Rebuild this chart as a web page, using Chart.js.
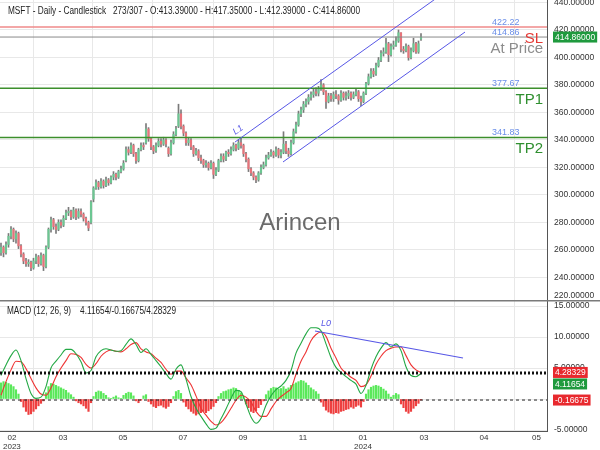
<!DOCTYPE html>
<html>
<head>
<meta charset="utf-8">
<script src="https://cdn.jsdelivr.net/npm/chart.js@4.4.1/dist/chart.umd.min.js"></script>
<style>
  html, body { margin: 0; padding: 0; background: #fff; }
  #wrap { position: relative; width: 600px; height: 450px; overflow: hidden; background: #fff; }
  #price-wrap { position: absolute; left: 0; top: 0; width: 600px; height: 300px; }
  #macd-wrap { position: absolute; left: 0; top: 300px; width: 600px; height: 150px; }
</style>
</head>
<body>
<div id="wrap">
  <div id="price-wrap"><canvas id="price-chart" width="600" height="300"></canvas></div>
  <div id="macd-wrap"><canvas id="macd-chart" width="600" height="150"></canvas></div>
</div>
<script>
// daily candles, one per bar index
const opens = [
  258,262,258,264,270,275,268,272,263,257, 252,250,251,247,252,255,250,256,248,262,
  275,282,277,275,280,278,283,287,288,284, 289,284,288,286,283,280,280,297,305,309,
  306,310,307,311,309,313,315,313,317,319, 325,333,331,336,330,325,333,336,338,348,
  341,335,332,336,339,337,340,334,330,338, 344,350,359,350,345,338,340,335,330,332,
  327,325,322,323,320,323,315,318,325,328, 326,331,330,333,336,334,338,336,330,326,
  319,316,313,311,316,320,322,327,329,331, 329,333,329,331,337,332,330,338,346,351,
  359,362,366,368,371,373,375,374,377,380, 375,368,372,370,373,372,369,374,371,372,
  374,371,373,375,370,368,374,381,386,390, 388,394,398,403,404,410,402,408,409,412,
  418,406,405,408,400,405,410,404,413.39
];
const highs = [
  265,263,266,272,277,276,274,273,264,258, 254,253,252,254,257,256,258,257,263,276,
  284,283,279,282,282,285,289,291,289,291, 290,290,290,287,284,281,296,306,311,310,
  312,311,313,312,314,317,316,318,321,325, 335,335,338,337,331,334,338,338,352,349,
  342,336,338,341,341,342,341,335,340,346, 350,366,362,351,346,342,341,336,334,333,
  329,326,325,324,325,324,320,326,330,330, 332,333,335,338,337,340,342,337,331,327,
  320,317,314,317,322,324,329,331,333,332, 335,334,333,346,339,334,340,348,353,361,
  364,368,370,373,375,377,378,379,384,381, 376,374,374,375,376,373,376,375,375,376,
  375,375,377,376,372,375,382,388,392,392, 396,400,405,407,414,411,410,412,415,420,
  418,408,410,409,407,414,411,412,417.35
];
const lows = [
  256,255,257,262,268,266,265,261,255,250, 248,248,245,246,250,248,249,245,247,261,
  273,275,272,274,276,277,282,285,282,283, 282,283,284,281,278,274,279,295,304,304,
  305,305,306,307,308,311,311,312,316,318, 324,329,330,328,323,324,332,333,337,339,
  333,330,331,335,335,336,335,328,329,337, 343,349,348,343,336,336,333,328,329,325,
  323,320,320,318,319,312,314,317,324,324, 325,328,329,332,332,333,334,328,324,317,
  314,311,309,310,315,319,321,326,328,327, 328,327,327,330,330,328,329,337,345,350,
  357,360,364,366,369,371,372,372,376,373, 363,367,368,368,370,366,368,369,369,370,
  369,370,372,368,365,367,373,380,385,386, 387,393,397,401,403,397,401,406,408,411,
  404,403,404,398,399,404,403,403,412.39
];
const closes = [
  262,258,264,270,275,268,272,263,257,252, 250,251,247,252,255,250,256,248,262,275,
  282,277,275,280,278,283,287,288,284,289, 284,288,286,283,280,276,295,305,309,306,
  310,307,311,309,313,315,313,317,319,323, 333,331,336,330,325,333,336,335,348,341,
  335,332,336,339,337,340,337,330,338,344, 348,359,350,345,338,340,335,330,332,327,
  325,322,323,320,323,315,318,325,328,326, 331,330,333,336,334,338,336,330,326,319,
  316,313,311,316,320,322,327,329,331,329, 333,329,331,337,332,330,338,346,351,359,
  362,366,368,371,373,375,374,377,380,375, 368,372,370,373,372,369,374,371,372,374,
  371,373,375,370,368,374,381,386,390,388, 394,398,403,404,410,402,408,409,412,418,
  406,405,408,400,405,410,404,410,414.86
];

// MACD (12, 26, 9), lines read every second bar, histogram every bar
const macdValues = [
  3.8,5.5,7.0,7.9,6.2,3.3,0.9,0.1,0.3,2.0, 5.0,6.1,7.1,8.0,8.0,7.3,6.0,4.2,4.6,6.8,
  7.8,8.1,7.9,7.7,7.8,8.8,9.7,8.8,7.5,8.1, 7.2,6.2,5.2,4.1,3.2,4.8,5.5,3.2,0.4,-1.5,
  -2.8,-4.0,-4.9,-4.7,-3.2,-1.6,0.1,1.4,1.2,-0.8, -2.9,-3.9,-3.1,-1.0,0.5,1.5,2.1,3.0,4.6,7.4,
  9.0,10.5,11.5,11.5,11.0,8.9,6.7,5.1,4.3,3.6, 3.0,2.4,0.9,2.2,4.8,6.8,8.2,9.1,8.4,8.9,
  7.8,5.2,3.8,3.6,4.12
];
const signalValues = [
  0.6,2.8,4.7,6.1,6.0,4.9,3.3,1.8,0.8,0.6, 1.8,3.6,5.0,6.2,7.3,7.2,6.7,5.6,5.0,5.7,
  6.9,7.6,7.9,7.7,7.6,8.1,8.8,9.1,8.1,7.6, 7.3,6.6,5.9,4.8,4.0,4.5,4.5,3.4,2.3,0.5,
  -1.5,-2.6,-3.6,-4.2,-3.8,-2.8,-1.5,-0.2,0.6,0.3, -0.5,-2.0,-2.8,-2.8,-1.6,-0.4,0.4,1.0,1.7,4.0,
  6.1,7.6,9.4,10.4,10.8,10.1,8.2,6.6,5.0,4.2, 3.5,3.0,2.0,2.3,3.7,5.6,6.9,7.8,8.2,8.4,
  8.4,7.0,5.5,4.7,4.28
];
const histValues = [
  2.6,2.8,2.7,2.5,2.3,2.0,1.5,0.8,-0.4,-1.3, -2.0,-2.5,-2.4,-2.0,-1.6,-1.1,-0.7,-0.3,1.0,2.0,
  2.5,2.4,2.2,2.0,1.8,1.6,1.4,1.0,0.7,0.3, -0.3,-0.6,-0.8,-1.1,-1.5,-2.0,-0.6,0.4,1.1,1.3,
  1.2,0.9,0.6,0.2,0.1,0.3,0.5,0.2,0.1,0.6, 0.9,1.1,1.0,0.5,-0.3,-0.6,-0.2,0.5,0.7,-0.4,
  -0.8,-1.2,-1.4,-1.1,-1.0,-1.3,-1.5,-1.2,-0.6,0.4, 1.2,1.4,0.9,-0.5,-1.2,-1.6,-2.0,-2.3,-2.6,-2.4,
  -2.2,-2.0,-2.2,-1.9,-1.6,-1.2,-0.6,0.4,0.9,1.2, 1.3,1.5,1.6,1.8,1.7,1.4,1.0,0.4,-0.8,-1.4,
  -2.0,-2.2,-1.9,-1.4,-0.9,-0.3,0.7,1.3,1.7,1.9, 1.8,1.6,1.7,2.0,1.6,1.8,2.2,2.4,2.6,2.8,
  3.0,2.9,2.6,2.2,1.8,1.5,1.2,0.8,-0.5,-1.2, -1.8,-2.1,-2.3,-2.4,-2.2,-2.3,-2.0,-1.9,-1.7,-1.6,
  -1.3,-1.5,-1.2,-1.0,-1.3,-0.4,0.8,1.5,1.9,2.1, 2.2,2.1,1.9,1.6,1.3,0.8,0.3,0.6,0.9,0.7,
  -0.8,-1.4,-2.0,-2.3,-2.0,-1.5,-1.1,-0.7,-0.17
];
const macdLast = 4.11654;
const histLast = -0.16675;
const signalLast = 4.28329;

// price levels and drawn trend lines (bar index / value)
const levelPrices = [422.22, 414.86, 377.67, 341.83];
const levelTags = ['SL', 'At Price', 'TP1', 'TP2'];
const lastPrice = 414.86;
const upperChannelIdx = [93.6, 176];
const upperChannelPrice = [338.5, 445.5];
const lowerChannelIdx = [112.8, 185.6];
const lowerChannelPrice = [324.0, 418.5];
const macdTrendIdx = [125.6, 184.8];
const macdTrendValue = [10.97, 6.62];

// time axis
const monthTickIdx = [0.8, 24.8, 48.8, 72.8, 96.8, 120.8, 144.8, 169.2, 193.2, 217.2];
const monthLabels = ['02', '03', '05', '07', '09', '11', '01', '03', '04', '05'];
const yearLabels = ['2023', '', '', '', '', '', '2024', '', '', ''];

const FONT = '"Liberation Sans", Arial, sans-serif';
const X_MIN = -0.4;
const X_MAX = 218.4;
const UP = '#6cc692';
const DOWN = '#e8737a';
const TREND = '#5757e6';

const headerText = 'MSFT - Daily - Candlestick   273/307 - O:413.39000 - H:417.35000 - L:412.39000 - C:414.86000';
const macdHeader = `MACD (12, 26, 9)    ${macdLast.toFixed(5)}/${histLast.toFixed(5)}/${signalLast.toFixed(5)}`;

function fitText(ctx, text, x, y, width) {
  const w = ctx.measureText(text).width;
  ctx.save();
  ctx.translate(x, y);
  ctx.scale(width / w, 1);
  ctx.fillText(text, 0, 0);
  ctx.restore();
}

function valueBox(ctx, text, left, mid, bg) {
  const w = ctx.measureText(text).width;
  ctx.fillStyle = bg;
  ctx.fillRect(left, mid - 5.5, w + 4, 11);
  ctx.fillStyle = '#fff';
  ctx.fillText(text, left + 2, mid + 0.5);
}

function xAxis(showBorder) {
  return {
    type: 'linear',
    min: X_MIN,
    max: X_MAX,
    offset: false,
    afterBuildTicks: (s) => { s.ticks = monthTickIdx.map((v) => ({ value: v })); },
    ticks: { display: false },
    grid: { color: '#e8e8e8', drawTicks: false },
    border: { display: showBorder, color: '#555' }
  };
}

function yAxis(min, max, step) {
  return {
    position: 'right',
    min,
    max,
    afterFit: (s) => { s.width = 53; s.paddingTop = 0; s.paddingBottom = 0; },
    ticks: {
      stepSize: step,
      includeBounds: false,
      padding: 7,
      color: '#333',
      font: { family: FONT, size: 8.5 },
      callback: (v) => Number(v).toFixed(5)
    },
    grid: { color: '#e8e8e8', drawTicks: false },
    border: { color: '#555' }
  };
}

function segment(xs, ys, color, width, dash) {
  return {
    type: 'line',
    data: xs.map((x, k) => ({ x, y: ys[k] })),
    borderColor: color,
    borderWidth: width,
    borderDash: dash || [],
    pointRadius: 0,
    fill: false,
    order: 0
  };
}

const baseOptions = {
  responsive: false,
  animation: false,
  events: [],
  plugins: { legend: { display: false }, tooltip: { enabled: false } }
};

const priceOverlay = {
  id: 'priceOverlay',
  afterDraw(chart) {
    const { ctx, chartArea, scales: { y } } = chart;
    const upper = chart.getDatasetMeta(0).data[0];
    ctx.save();
    ctx.textBaseline = 'middle';

    ctx.fillStyle = '#222';
    ctx.font = `10px ${FONT}`;
    fitText(ctx, headerText, 8, 11, 352);

    ctx.fillStyle = '#6b6b6b';
    ctx.font = `24px ${FONT}`;
    ctx.textAlign = 'center';
    ctx.fillText('Arincen', 300, 223);

    const tagColors = ['#e53935', '#8c8c8c', '#2f8f2f', '#2f8f2f'];
    levelPrices.forEach((p, k) => {
      const py = y.getPixelForValue(p);
      ctx.font = `9px ${FONT}`;
      ctx.textAlign = 'left';
      ctx.fillStyle = '#6a8ee8';
      ctx.fillText(p.toFixed(2), chartArea.right - 55, py - 4.5);
      ctx.font = `15px ${FONT}`;
      ctx.textAlign = 'right';
      ctx.fillStyle = tagColors[k];
      ctx.fillText(levelTags[k], chartArea.right - 4, py + 11.5);
    });

    ctx.save();
    ctx.translate(upper.x + 3, upper.y - 12);
    ctx.rotate(-0.6);
    ctx.font = `italic 9px ${FONT}`;
    ctx.fillStyle = TREND;
    ctx.textAlign = 'center';
    ctx.fillText('L1', 0, 0);
    ctx.restore();

    ctx.font = `8.5px ${FONT}`;
    ctx.textAlign = 'left';
    ctx.fillStyle = '#333';
    ctx.fillText((220).toFixed(5), chartArea.right + 7, 296);
    valueBox(ctx, lastPrice.toFixed(5), chartArea.right + 6, y.getPixelForValue(lastPrice), '#1f9a3e');
    ctx.restore();
  }
};

const macdOverlay = {
  id: 'macdOverlay',
  afterDraw(chart) {
    const { ctx, chartArea, scales: { x, y } } = chart;
    const trendStart = chart.getDatasetMeta(0).data[0];
    ctx.save();
    ctx.textBaseline = 'middle';

    ctx.fillStyle = '#222';
    ctx.font = `10px ${FONT}`;
    fitText(ctx, macdHeader, 7, 11, 169);

    ctx.font = `italic 9px ${FONT}`;
    ctx.fillStyle = TREND;
    ctx.fillText('L0', trendStart.x + 6, trendStart.y - 7);

    ctx.font = `8.5px ${FONT}`;
    const sy = y.getPixelForValue(signalLast);
    valueBox(ctx, signalLast.toFixed(5), chartArea.right + 6, sy, '#e8292e');
    valueBox(ctx, macdLast.toFixed(5), chartArea.right + 6, sy + 11.5, '#1f9a3e');
    valueBox(ctx, histLast.toFixed(5), chartArea.right + 6, y.getPixelForValue(histLast), '#e8292e');

    ctx.fillStyle = '#333';
    ctx.font = `8px ${FONT}`;
    ctx.textAlign = 'center';
    monthTickIdx.forEach((v, k) => {
      const half = Math.max(ctx.measureText(monthLabels[k]).width, ctx.measureText(yearLabels[k]).width) / 2;
      const px = Math.min(Math.max(x.getPixelForValue(v), chartArea.left + half + 3), chartArea.right - half - 6);
      ctx.fillText(monthLabels[k], px, chartArea.bottom + 6.5);
      if (yearLabels[k]) ctx.fillText(yearLabels[k], px, chartArea.bottom + 15.5);
    });

    ctx.strokeStyle = '#7a7a7a';
    ctx.lineWidth = 1.5;
    ctx.beginPath();
    ctx.moveTo(0, 0.75);
    ctx.lineTo(600, 0.75);
    ctx.stroke();
    ctx.restore();
  }
};

const levelColors = ['#ef8a8a', '#8a8a8a', '#3c8f2c', '#3c8f2c'];
const levelWidths = [1.5, 1, 1.5, 1.5];

new Chart(document.getElementById('price-chart'), {
  type: 'bar',
  data: {
    datasets: [
      segment(upperChannelIdx, upperChannelPrice, TREND, 1),
      segment(lowerChannelIdx, lowerChannelPrice, TREND, 1),
      ...levelPrices.map((p, k) => ({
        ...segment([X_MIN, X_MAX], [p, p], levelColors[k], levelWidths[k]),
        order: 1
      })),
      {
        type: 'bar',
        data: closes.map((c, i) => ({ x: i, y: [opens[i], c] })),
        backgroundColor: closes.map((c, i) => (c >= opens[i] ? UP : DOWN)),
        barThickness: 1.5,
        minBarLength: 1,
        grouped: false,
        order: 2
      },
      {
        type: 'bar',
        data: highs.map((h, i) => ({ x: i, y: [lows[i], h] })),
        backgroundColor: '#7a7a7a',
        barThickness: 1,
        grouped: false,
        order: 3
      }
    ]
  },
  options: {
    ...baseOptions,
    layout: { padding: 0 },
    scales: { x: xAxis(false), y: yAxis(441.8 - 300 / 1.375, 441.8, 20) }
  },
  plugins: [priceOverlay]
});

new Chart(document.getElementById('macd-chart'), {
  type: 'bar',
  data: {
    datasets: [
      segment(macdTrendIdx, macdTrendValue, TREND, 1.2),
      segment([X_MIN, X_MAX], [signalLast, signalLast], '#111', 2, [2, 2]),
      segment([X_MIN, X_MAX], [macdLast, macdLast], '#111', 2, [2, 2]),
      segment([X_MIN, X_MAX], [histLast, histLast], '#222', 1, [3, 3]),
      {
        type: 'line',
        data: macdValues.map((v, k) => ({ x: k * 2, y: v })),
        borderColor: '#22a844',
        borderWidth: 1.1,
        pointRadius: 0,
        cubicInterpolationMode: 'monotone',
        order: 1
      },
      {
        type: 'line',
        data: signalValues.map((v, k) => ({ x: k * 2, y: v })),
        borderColor: '#ee3333',
        borderWidth: 1.1,
        pointRadius: 0,
        cubicInterpolationMode: 'monotone',
        order: 1
      },
      {
        type: 'bar',
        data: histValues.map((v, i) => ({ x: i, y: v })),
        backgroundColor: histValues.map((v) => (v >= 0 ? '#5ae85a' : '#ee4040')),
        barThickness: 1.5,
        grouped: false,
        order: 2
      }
    ]
  },
  options: {
    ...baseOptions,
    layout: { padding: { top: 0, left: 0, right: 0, bottom: 19 } },
    scales: { x: xAxis(true), y: yAxis(-5.16, 15.97, 5) }
  },
  plugins: [macdOverlay]
});
</script>
</body>
</html>
